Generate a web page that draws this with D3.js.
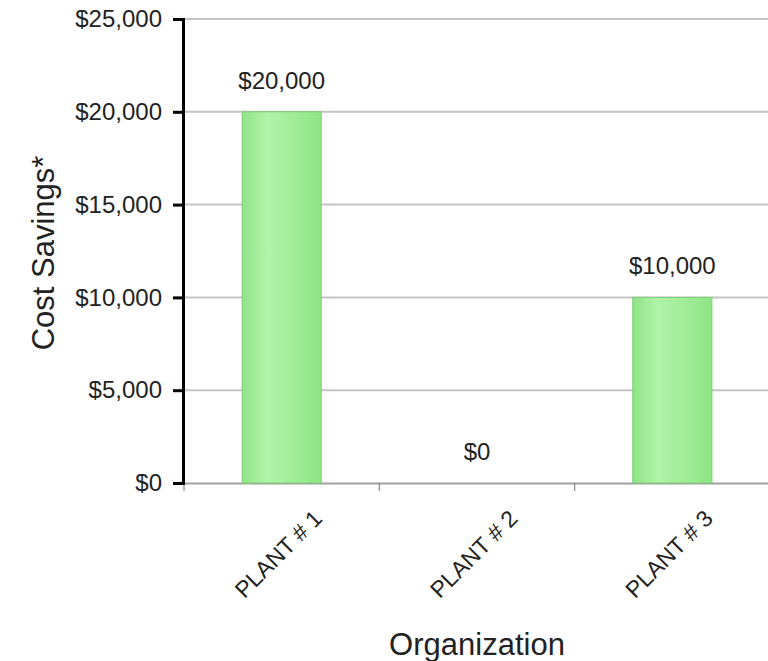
<!DOCTYPE html>
<html>
<head>
<meta charset="utf-8">
<script src="https://cdn.jsdelivr.net/npm/d3@7"></script>
<style>
  body { margin: 0; background: #fff; }
  text { font-family: "Liberation Sans", Arial, sans-serif; }
</style>
</head>
<body>
<svg width="768" height="661"></svg>
<script>
// chart data
var plants = ["PLANT # 1", "PLANT # 2", "PLANT # 3"];
var savings = [20000, 0, 10000];
var yTicks = [0, 5000, 10000, 15000, 20000, 25000];

var width = 768, height = 661;
var svg = d3.select("svg");

var x = d3.scaleBand().domain(plants).range([184, 770]);
var y = d3.scaleLinear().domain([0, 25000]).range([483, 19]);
var money = d3.format("$,");

// bar gradient
var grad = svg.append("defs").append("linearGradient")
    .attr("id", "barfill")
    .attr("x1", "0%").attr("x2", "100%").attr("y1", "0%").attr("y2", "0%");
grad.append("stop").attr("offset", "0%").attr("stop-color", "#8fe387");
grad.append("stop").attr("offset", "32%").attr("stop-color", "#b2f3aa");
grad.append("stop").attr("offset", "100%").attr("stop-color", "#8ee585");

// gridlines
svg.selectAll("line.grid")
    .data(yTicks.filter(function(d) { return d > 0; }))
    .enter()
    .append("line")
    .attr("class", "grid")
    .attr("x1", 184).attr("x2", width)
    .attr("y1", function(d) { return y(d); })
    .attr("y2", function(d) { return y(d); })
    .attr("stroke", "#c4c4c4")
    .attr("stroke-width", 2);

// bottom axis
var xAxis = svg.append("g")
    .attr("transform", "translate(0," + y(0) + ")")
    .call(d3.axisBottom(x).tickSize(0).tickFormat(""));
xAxis.select(".domain").attr("stroke", "#a0a0a0").attr("stroke-width", 2);
xAxis.selectAll("line.sep")
    .data([0, 1, 2])
    .enter()
    .append("line")
    .attr("class", "sep")
    .attr("x1", function(d) { return 184 + d * x.bandwidth(); })
    .attr("x2", function(d) { return 184 + d * x.bandwidth(); })
    .attr("y1", 0).attr("y2", 8)
    .attr("stroke", "#888")
    .attr("stroke-width", 1.2);

// bars
var barW = x.bandwidth() * 0.405;
svg.selectAll("rect.bar")
    .data(savings)
    .enter()
    .append("rect")
    .attr("class", "bar")
    .attr("x", function(d, i) { return x(plants[i]) + x.bandwidth() / 2 - barW / 2; })
    .attr("y", function(d) { return y(d); })
    .attr("width", barW)
    .attr("height", function(d) { return y(0) - y(d); })
    .attr("fill", "url(#barfill)")
    .attr("stroke", "#7dce75")
    .attr("stroke-width", 1);

// value labels
svg.selectAll("text.value")
    .data(savings)
    .enter()
    .append("text")
    .attr("class", "value")
    .attr("x", function(d, i) { return x(plants[i]) + x.bandwidth() / 2; })
    .attr("y", function(d) { return y(d) - 23; })
    .attr("text-anchor", "middle")
    .style("font-size", "24px")
    .attr("fill", "#222")
    .text(function(d) { return money(d); });

// y axis
var yAxis = svg.append("g")
    .attr("transform", "translate(183,0)")
    .call(d3.axisLeft(y).tickValues(yTicks).tickFormat(money).tickSize(10).tickPadding(11));
yAxis.select(".domain").attr("stroke", "#000").attr("stroke-width", 3);
yAxis.selectAll(".tick line").attr("stroke", "#000").attr("stroke-width", 3);
yAxis.selectAll(".tick text")
    .style("font-size", "24px")
    .style("font-family", "'Liberation Sans', Arial, sans-serif")
    .attr("fill", "#222");

// category labels
svg.selectAll("text.cat")
    .data(plants)
    .enter()
    .append("text")
    .attr("class", "cat")
    .attr("text-anchor", "end")
    .style("font-size", "23px")
    .attr("fill", "#222")
    .attr("transform", function(d) {
        return "translate(" + (x(d) + x.bandwidth() / 2 + 42) + ",520) rotate(-45)";
    })
    .text(function(d) { return d; });

// axis titles
svg.append("text")
    .attr("x", 477).attr("y", 655)
    .attr("text-anchor", "middle")
    .style("font-size", "31px")
    .attr("fill", "#222")
    .text("Organization");

svg.append("text")
    .attr("transform", "translate(54,253) rotate(-90)")
    .attr("text-anchor", "middle")
    .style("font-size", "31px")
    .attr("fill", "#222")
    .text("Cost Savings*");
</script>
</body>
</html>
